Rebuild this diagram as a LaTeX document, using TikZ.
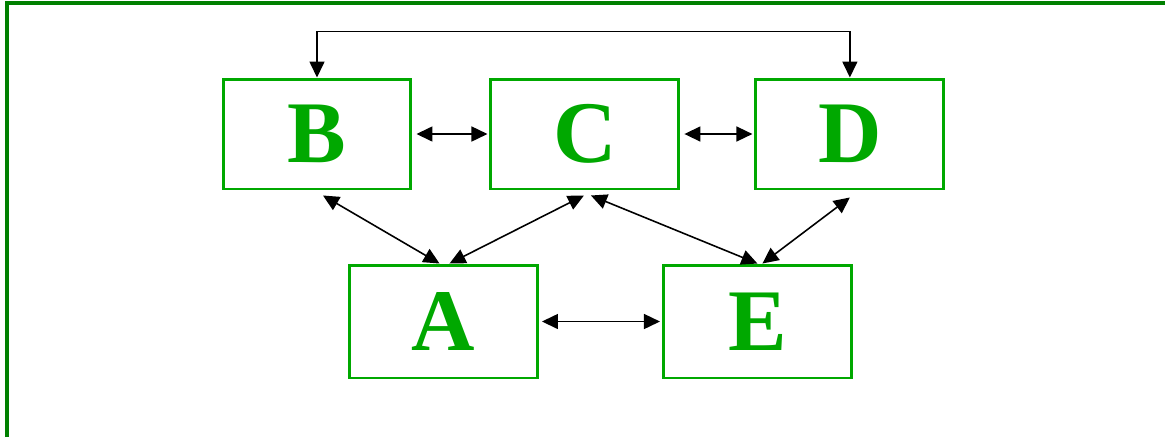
\documentclass[tikz,border=0pt]{standalone}
\usepackage{fontspec}
\setmainfont{Liberation Serif}
\usetikzlibrary{positioning,arrows.meta}
\definecolor{boxgreen}{HTML}{00A800}
\definecolor{framegreen}{HTML}{008000}
\tikzset{>={Triangle[length=0.32cm,width=0.3cm]}}
\tikzset{letterbox/.style={draw=boxgreen, line width=1.7pt, minimum width=3.76cm, minimum height=2.2cm, text=boxgreen, font=\fontsize{50}{50}\selectfont\bfseries}}

\begin{document}
\begin{tikzpicture}[x=0.02cm, y=-0.02cm, line width=0.9pt]
      \useasboundingbox (0,0) rectangle (1165,437);
      % frame, only top and left edges are visible
      \draw[framegreen, line width=1.8pt] (7,437) -- (7,3) -- (1165,3);
      \node[letterbox] (nB) at (317,134) {B};
      \node[letterbox, right=1.54cm of nB] (nC) {C};
      \node[letterbox, right=1.48cm of nC] (nD) {D};
      \node[letterbox, minimum height=2.26cm] (nA) at (443.5,321.5) {A};
      \node[letterbox, minimum height=2.26cm, right=2.46cm of nA] (nE) {E};
      \coordinate[above=0.92cm of nB.north] (aux1);
      \draw[<->] (nB.north) to (aux1) -| (nD.north);
      \draw[<->] ([xshift=0.08cm]nB.east) to ([xshift=-0.04cm]nC.west);
      \draw[<->] ([xshift=0.08cm]nC.east) to ([xshift=-0.04cm]nD.west);
      \draw[<->] ([xshift=0.06cm]nA.east) to ([xshift=-0.04cm]nE.west);
      \draw[<->] ([xshift=0.12cm,yshift=-0.1cm]nB.south) to ([xshift=-0.08cm]nA.north);
      \draw[<->] ([xshift=-0.02cm,yshift=-0.1cm]nC.south) to ([xshift=0.12cm]nA.north);
      \draw[<->] ([xshift=0.12cm,yshift=-0.1cm]nC.south) to ([xshift=0cm]nE.north);
      \draw[<->] ([xshift=0cm,yshift=-0.14cm]nD.south) to ([xshift=0.1cm]nE.north);
\end{tikzpicture}
\end{document}
